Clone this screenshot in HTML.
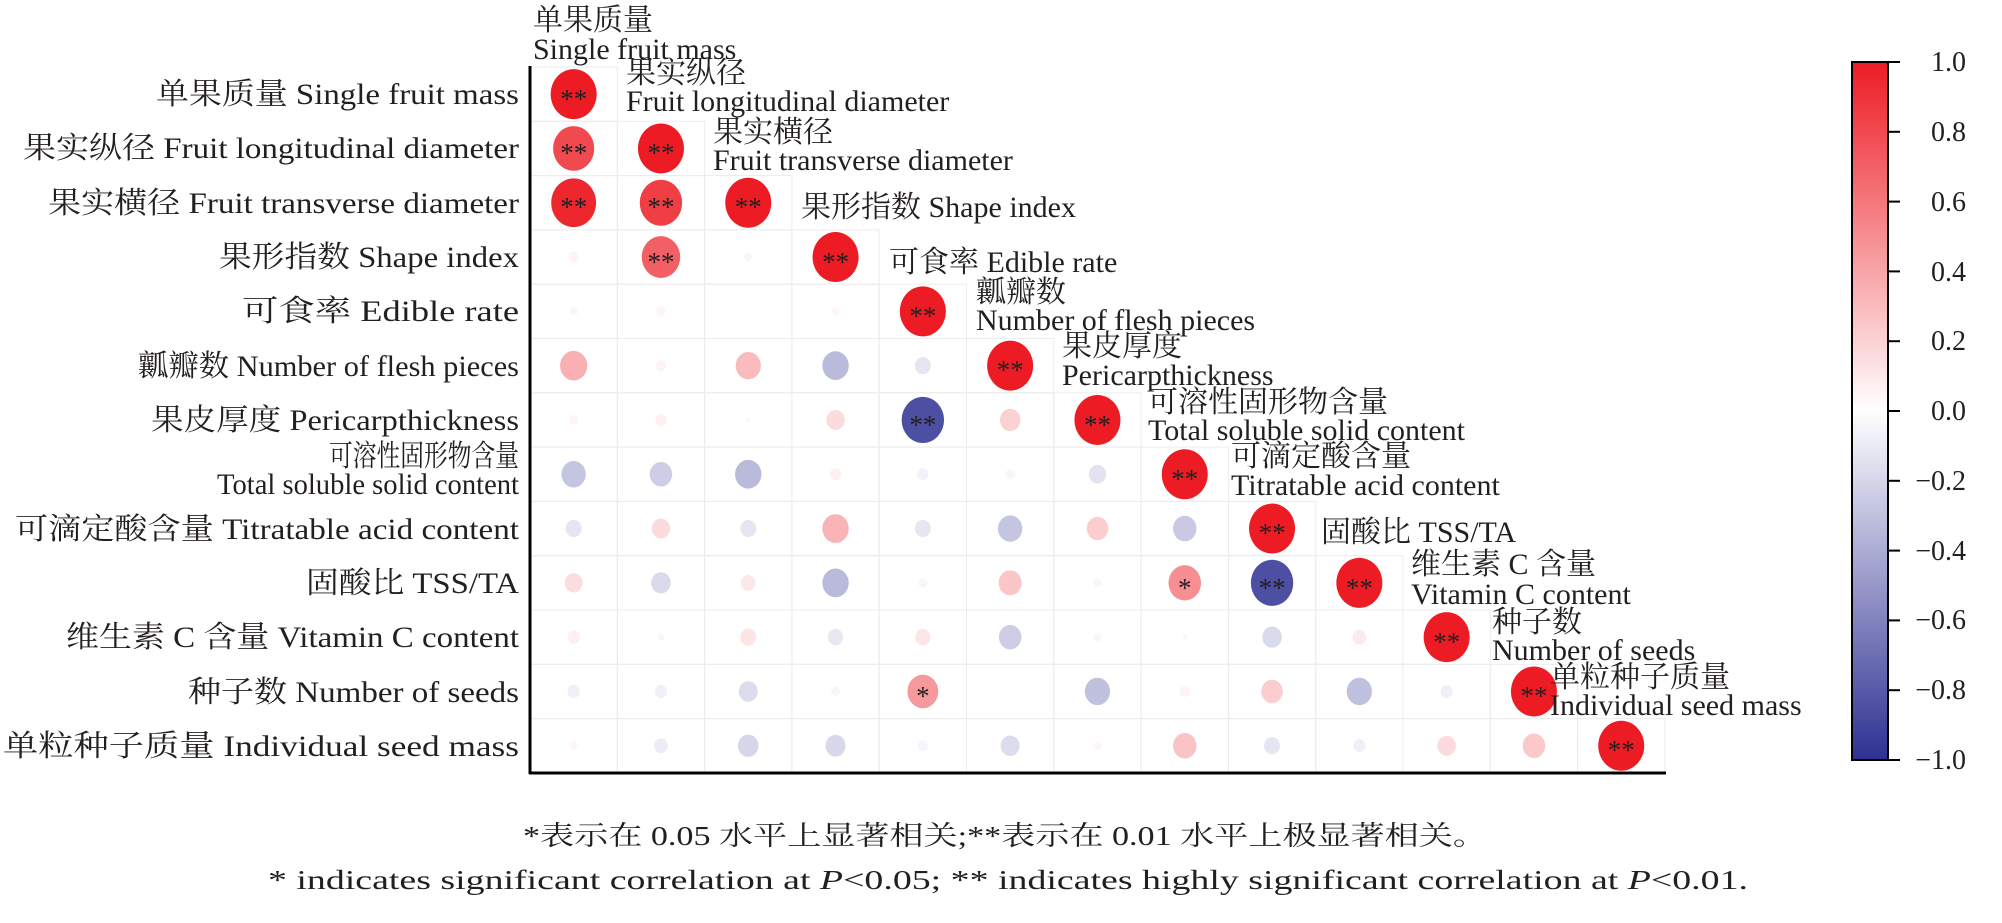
<!DOCTYPE html>
<html><head><meta charset="utf-8"><style>
html,body{margin:0;padding:0;background:#fff;}
svg{display:block;}
text{font-family:"Liberation Serif","Noto Serif CJK SC","Noto Sans CJK SC",serif;fill:#231f20;}
</style></head><body>
<svg id="s" width="2002" height="923" viewBox="0 0 2002 923" xmlns="http://www.w3.org/2000/svg">
<defs>
<linearGradient id="cb" x1="0" y1="0" x2="0" y2="1">
<stop offset="0" stop-color="#ed1c24"/><stop offset="0.5" stop-color="#ffffff"/><stop offset="1" stop-color="#2e3192"/>
</linearGradient>
</defs>
<g id="grid"></g>
<g id="dots"></g>
<line x1="530" y1="66" x2="530" y2="774" stroke="#000" stroke-width="3"/>
<line x1="529" y1="773" x2="1666" y2="773" stroke="#000" stroke-width="3"/>
<!-- left labels -->
<g font-size="30" text-anchor="end">
<text x="519" y="104" textLength="363" lengthAdjust="spacingAndGlyphs">单果质量 Single fruit mass</text>
<text x="519" y="158" textLength="496" lengthAdjust="spacingAndGlyphs">果实纵径 Fruit longitudinal diameter</text>
<text x="519" y="213" textLength="471" lengthAdjust="spacingAndGlyphs">果实横径 Fruit transverse diameter</text>
<text x="519" y="267" textLength="300" lengthAdjust="spacingAndGlyphs">果形指数 Shape index</text>
<text x="519" y="321" textLength="277" lengthAdjust="spacingAndGlyphs">可食率 Edible rate</text>
<text x="519" y="376" textLength="381" lengthAdjust="spacingAndGlyphs">瓤瓣数 Number of flesh pieces</text>
<text x="519" y="430" textLength="368" lengthAdjust="spacingAndGlyphs">果皮厚度 Pericarpthickness</text>
<text x="519" y="466" textLength="190" lengthAdjust="spacingAndGlyphs">可溶性固形物含量</text>
<text x="519" y="494" textLength="302" lengthAdjust="spacingAndGlyphs">Total soluble solid content</text>
<text x="519" y="539" textLength="504" lengthAdjust="spacingAndGlyphs">可滴定酸含量 Titratable acid content</text>
<text x="519" y="593" textLength="213" lengthAdjust="spacingAndGlyphs">固酸比 TSS/TA</text>
<text x="519" y="647" textLength="453" lengthAdjust="spacingAndGlyphs">维生素 C 含量 Vitamin C content</text>
<text x="519" y="702" textLength="331" lengthAdjust="spacingAndGlyphs">种子数 Number of seeds</text>
<text x="519" y="756" textLength="516" lengthAdjust="spacingAndGlyphs">单粒种子质量 Individual seed mass</text>
</g>
<!-- diagonal labels -->
<g font-size="30">
<text x="533" y="30">单果质量</text><text x="533" y="59">Single fruit mass</text>
<text x="626" y="83">果实纵径</text><text x="626" y="111">Fruit longitudinal diameter</text>
<text x="713" y="142">果实横径</text><text x="713" y="170">Fruit transverse diameter</text>
<text x="801" y="217">果形指数 Shape index</text>
<text x="889" y="272">可食率 Edible rate</text>
<text x="976" y="302">瓤瓣数</text><text x="976" y="330">Number of flesh pieces</text>
<text x="1062" y="356">果皮厚度</text><text x="1062" y="385">Pericarpthickness</text>
<text x="1148" y="412">可溶性固形物含量</text><text x="1148" y="440">Total soluble solid content</text>
<text x="1231" y="466">可滴定酸含量</text><text x="1231" y="495">Titratable acid content</text>
<text x="1321" y="542">固酸比 TSS/TA</text>
<text x="1411" y="574">维生素 C 含量</text><text x="1411" y="604">Vitamin C content</text>
<text x="1492" y="632">种子数</text><text x="1492" y="660">Number of seeds</text>
<text x="1550" y="687">单粒种子质量</text><text x="1550" y="715">Individual seed mass</text>
</g>
<!-- asterisks -->
<g font-size="27" text-anchor="middle" fill="#231f20">
<text x="573.7" y="108">**</text>
<text x="573.7" y="162">**</text><text x="661" y="162">**</text>
<text x="573.7" y="216">**</text><text x="661" y="216">**</text><text x="748.3" y="216">**</text>
<text x="661" y="271">**</text><text x="835.6" y="271">**</text>
<text x="922.9" y="325">**</text>
<text x="1010.2" y="379">**</text>
<text x="922.9" y="434">**</text><text x="1097.5" y="434">**</text>
<text x="1184.8" y="488">**</text>
<text x="1272.1" y="542">**</text>
<text x="1184.8" y="597">*</text><text x="1272.1" y="597">**</text><text x="1359.4" y="597">**</text>
<text x="1446.7" y="651">**</text>
<text x="922.9" y="705">*</text><text x="1534" y="705">**</text>
<text x="1621.3" y="759">**</text>
</g>
<!-- colorbar -->
<rect x="1852" y="62" width="36" height="698" fill="url(#cb)" stroke="#000" stroke-width="2"/>
<g stroke="#000" stroke-width="2">
<line x1="1888" y1="62" x2="1900" y2="62"/><line x1="1888" y1="131.8" x2="1900" y2="131.8"/>
<line x1="1888" y1="201.6" x2="1900" y2="201.6"/><line x1="1888" y1="271.4" x2="1900" y2="271.4"/>
<line x1="1888" y1="341.2" x2="1900" y2="341.2"/><line x1="1888" y1="411" x2="1900" y2="411"/>
<line x1="1888" y1="480.8" x2="1900" y2="480.8"/><line x1="1888" y1="550.6" x2="1900" y2="550.6"/>
<line x1="1888" y1="620.4" x2="1900" y2="620.4"/><line x1="1888" y1="690.2" x2="1900" y2="690.2"/>
<line x1="1888" y1="760" x2="1900" y2="760"/>
</g>
<g font-size="28" text-anchor="end">
<text x="1966" y="71">1.0</text><text x="1966" y="141">0.8</text><text x="1966" y="211">0.6</text>
<text x="1966" y="281">0.4</text><text x="1966" y="350">0.2</text><text x="1966" y="420">0.0</text>
<text x="1966" y="490">−0.2</text><text x="1966" y="560">−0.4</text><text x="1966" y="629">−0.6</text>
<text x="1966" y="699">−0.8</text><text x="1966" y="769">−1.0</text>
</g>
<!-- footnotes -->
<text x="523" y="845" font-size="27" textLength="964" lengthAdjust="spacingAndGlyphs">*表示在 0.05 水平上显著相关;**表示在 0.01 水平上极显著相关。</text>
<text x="268" y="889" font-size="27" textLength="1480" lengthAdjust="spacingAndGlyphs">* indicates significant correlation at <tspan font-style="italic">P</tspan>&lt;0.05; ** indicates highly significant correlation at <tspan font-style="italic">P</tspan>&lt;0.01.</text>
</svg>
<script>
var R=[[1],[0.8,1],[0.95,0.85,1],[0.05,0.7,-0.03,1],[-0.03,0.04,0,0.03,1],
[0.35,0.05,0.3,-0.33,-0.12,1],[0.04,0.06,0.01,0.16,-0.85,0.2,1],
[-0.28,-0.24,-0.33,0.06,-0.06,-0.04,-0.14,1],
[-0.12,0.16,-0.12,0.33,-0.12,-0.28,0.22,-0.26,1],
[0.15,-0.18,0.1,-0.33,-0.04,0.25,-0.03,0.5,-0.85,1],
[0.07,-0.02,0.12,-0.11,0.11,-0.24,-0.03,0.01,-0.18,0.09,1],
[-0.07,-0.07,-0.17,-0.04,0.45,0,-0.3,0.05,0.22,-0.3,-0.07,1],
[0.03,-0.09,-0.2,-0.19,-0.05,-0.17,0.03,0.26,-0.12,-0.07,0.16,0.24,1]];
var L=530,T=67,W=87.3,H=54.3,ns="http://www.w3.org/2000/svg";
var g=document.getElementById('grid'),d=document.getElementById('dots');
function col(r){var a=Math.abs(r),c=r>0?[237,28,36]:[46,49,146];
return 'rgb('+c.map(function(v){return Math.round(255+(v-255)*a)}).join(',')+')';}
for(var i=0;i<13;i++)for(var j=0;j<=i;j++){
var rc=document.createElementNS(ns,'rect');rc.setAttribute('x',L+W*j);rc.setAttribute('y',T+H*i);
rc.setAttribute('width',W);rc.setAttribute('height',H);rc.setAttribute('fill','none');
rc.setAttribute('stroke','#ececec');rc.setAttribute('stroke-width','1');g.appendChild(rc);
var r=R[i][j],a=Math.sqrt(Math.abs(r));if(a<0.01)continue;
var e=document.createElementNS(ns,'ellipse');e.setAttribute('cx',L+W*(j+0.5));e.setAttribute('cy',T+H*(i+0.5));
e.setAttribute('rx',Math.max(2.5,23*a));e.setAttribute('ry',Math.max(2.5,25*a));
var cc=Math.min(1,Math.abs(r));e.setAttribute('fill',col(r>0?Math.max(cc,0.04):-Math.max(cc,0.04)));
d.appendChild(e);}
</script>
</body></html>
